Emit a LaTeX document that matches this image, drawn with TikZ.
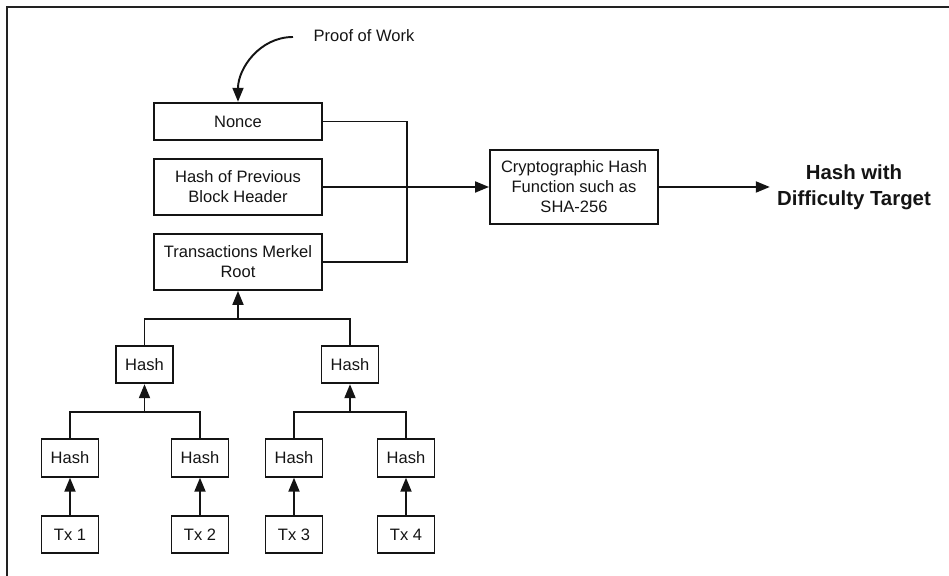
\documentclass[tikz,border=0pt]{standalone}
\usepackage{fontspec}
\setmainfont{Liberation Sans}
\usepackage{tikz}
\usetikzlibrary{positioning}
\usetikzlibrary{arrows.meta}
\definecolor{frame}{RGB}{34,34,34}
\definecolor{ink}{RGB}{20,20,20}

\begin{document}
\begin{tikzpicture}[>={Triangle[length=0.28cm,width=0.22cm]},
  every node/.style={font=\fontsize{9.4}{11.4}\selectfont, text=ink},
  box/.style={draw=ink, line width=1.1pt, minimum width=3.36cm, minimum height=#1, inner sep=0pt, align=center},
  box/.default=1.12cm,
  hashbox/.style={draw=ink, line width=1.1pt, minimum width=1.14cm, minimum height=0.75cm, inner sep=0pt},
  wire/.style={draw=ink, line width=1.1pt}]

\useasboundingbox (0,0) rectangle (18.98,11.52);
\draw [frame, line width=1pt] (0.14,0) |- (18.98,11.38);

% block header
\node [box=0.75cm] (nonce) at (4.76,9.09) {Nonce};
\node [box] (prev) at (4.76,7.78) {Hash of Previous\\Block Header};
\node [box] (merkle) at (4.76,6.28) {Transactions Merkel\\Root};

\node (pow) at (7.28,10.80) {Proof of Work};
\coordinate (powtail) at (5.86,10.78);

\node [box=1.48cm] (crypto) at (11.48,7.78) {Cryptographic Hash\\Function such as\\SHA-256};
\node [font=\fontsize{11.6}{14.7}\selectfont\bfseries, align=center, inner sep=0.14cm] (target) at (17.08,7.78) {Hash with\\Difficulty Target};

\draw [wire,->] (powtail) to[out=180,in=90] (nonce.north);
\draw [wire] (nonce.east) -- ++(1.68,0) |- (merkle.east);
\draw [wire,->] (prev.east) -- (crypto.west);
\draw [wire,->] (crypto.east) -- (target.west);

% merkle tree
\node [hashbox] (h12) at (2.89,4.23) {Hash};
\node [hashbox] (h34) at (7.00,4.23) {Hash};

\node [hashbox] (h1) at (1.40,2.36) {Hash};
\node [hashbox] (h2) at (4.00,2.36) {Hash};
\node [hashbox] (h3) at (5.88,2.36) {Hash};
\node [hashbox] (h4) at (8.12,2.36) {Hash};

\node [hashbox, below = 0.74cm of h1] (tx1) {Tx 1};
\node [hashbox, below = 0.74cm of h2] (tx2) {Tx 2};
\node [hashbox, below = 0.74cm of h3] (tx3) {Tx 3};
\node [hashbox, below = 0.74cm of h4] (tx4) {Tx 4};

\coordinate (jroot) at ([yshift=-0.56cm]merkle.south);
\coordinate (j12) at ([yshift=-0.56cm]h12.south);
\coordinate (j34) at ([yshift=-0.56cm]h34.south);

\draw [wire] (h12.north) |- (jroot) -| (h34.north);
\draw [wire,->] (jroot) -- (merkle.south);
\draw [wire] (h1.north) |- (j12) -| (h2.north);
\draw [wire,->] (j12) -- (h12.south);
\draw [wire] (h3.north) |- (j34) -| (h4.north);
\draw [wire,->] (j34) -- (h34.south);

\foreach \i in {1,...,4}
  \draw [wire,->] (tx\i.north) -- (h\i.south);

\end{tikzpicture}
\end{document}
